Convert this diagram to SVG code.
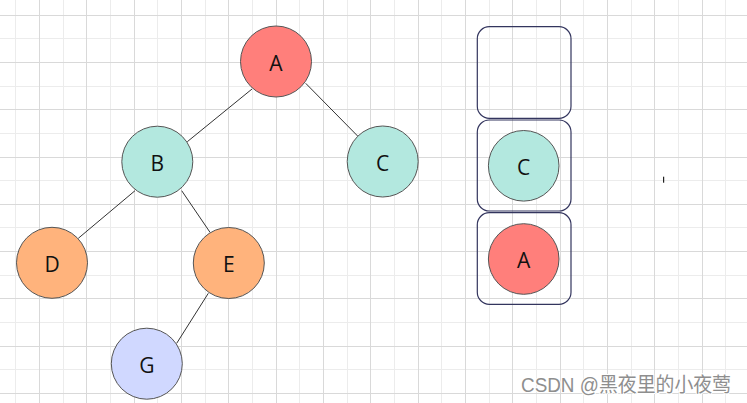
<svg xmlns="http://www.w3.org/2000/svg" width="747" height="403" viewBox="0 0 747 403">
<style>
.minor{stroke:#ececec;stroke-width:1;fill:none;shape-rendering:crispEdges}
.major{stroke:#d9d9d9;stroke-width:1;fill:none;shape-rendering:crispEdges}
.node{stroke:#555555;stroke-width:1}
.lbl{font-family:"Open Sans","Noto Sans","Liberation Sans",sans-serif;font-size:21px;fill:#111111;text-anchor:middle}
.edge{stroke:#333333;stroke-width:1;fill:none}
.slot{fill:none;stroke:#33355e;stroke-width:1.2}
.red{fill:#FF7F7B}
.teal{fill:#B3E8DF}
.orange{fill:#FFB37C}
.blue{fill:#D0D8FF}
.wm{font-family:"Liberation Sans","Noto Sans CJK SC",sans-serif;fill:#8e8e8e;stroke:#ffffff;stroke-width:2;paint-order:stroke}
</style>
<rect width="747" height="403" fill="#ffffff"/>
<g id="grid">
<path class="minor" d="M15.7 0V403M63 0V403M110.3 0V403M157.7 0V403M205 0V403M252.3 0V403M299.7 0V403M347 0V403M394.3 0V403M441.7 0V403M489 0V403M536.3 0V403M583.7 0V403M631 0V403M678.3 0V403M725.7 0V403M0 38.9H747M0 86.2H747M0 133.4H747M0 180.7H747M0 227.9H747M0 275.2H747M0 322.4H747M0 369.7H747"/>
<path class="major" d="M39.3 0V403M86.7 0V403M134 0V403M181.3 0V403M228.7 0V403M276 0V403M323.3 0V403M370.7 0V403M418 0V403M465.3 0V403M512.7 0V403M560 0V403M607.3 0V403M654.7 0V403M702 0V403M0 15.3H747M0 62.6H747M0 109.8H747M0 157.1H747M0 204.3H747M0 251.6H747M0 298.8H747M0 346.1H747M0 393.3H747"/>
</g>
<g id="connectors">
<line class="edge" x1="252" y1="89" x2="187.3" y2="141.7"/>
<line class="edge" x1="305.7" y1="83.3" x2="358.3" y2="136.7"/>
<line class="edge" x1="135" y1="190.7" x2="78.3" y2="238.3"/>
<line class="edge" x1="181.7" y1="190.7" x2="210" y2="232.3"/>
<line class="edge" x1="208.3" y1="293.3" x2="176.7" y2="343.3"/>
</g>
<g id="node-A"><circle class="node red" cx="276" cy="61.5" r="35.5"/><text class="lbl" x="276" y="70.5">A</text></g>
<g id="node-B"><circle class="node teal" cx="157.3" cy="161.7" r="35.5"/><text class="lbl" x="157.3" y="170.7">B</text></g>
<g id="node-C"><circle class="node teal" cx="382.7" cy="161.5" r="35.5"/><text class="lbl" x="382.7" y="170.5">C</text></g>
<g id="node-D"><circle class="node orange" cx="52" cy="262.8" r="35.5"/><text class="lbl" x="52" y="271.8">D</text></g>
<g id="node-E"><circle class="node orange" cx="228.8" cy="263" r="35.5"/><text class="lbl" x="228.8" y="272">E</text></g>
<g id="node-G"><circle class="node blue" cx="146.8" cy="363.7" r="35.5"/><text class="lbl" x="146.8" y="372.7">G</text></g>
<g id="stack-slot-1"><rect class="slot" x="477.3" y="26.7" width="93.7" height="91.6" rx="12"/></g>
<g id="stack-slot-2"><rect class="slot" x="477.3" y="120" width="93.7" height="91" rx="12"/></g>
<g id="stack-slot-3"><rect class="slot" x="477.3" y="212.7" width="93.7" height="91.6" rx="12"/></g>
<g id="stack-C"><circle class="node teal" cx="523.7" cy="165.8" r="35.3"/><text class="lbl" x="523.7" y="174.8">C</text></g>
<g id="stack-A"><circle class="node red" cx="523.7" cy="259" r="35.3"/><text class="lbl" x="523.7" y="268">A</text></g>
<rect id="cursor" x="663" y="176.7" width="1.2" height="6" fill="#222222"/>
<text class="wm" x="521" y="392" font-size="20" textLength="210" lengthAdjust="spacingAndGlyphs">CSDN @黑夜里的小夜莺</text>
</svg>
